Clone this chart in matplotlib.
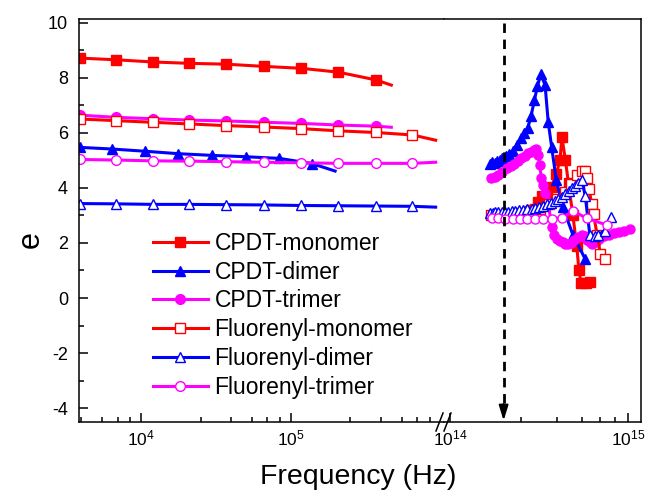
import matplotlib
matplotlib.use("Agg")
import matplotlib.pyplot as plt
from matplotlib.lines import Line2D
from matplotlib.ticker import FixedLocator, NullFormatter, LogFormatterSciNotation

plt.rcParams['font.family'] = ['Liberation Sans', 'DejaVu Sans']
plt.rcParams['mathtext.fontset'] = 'custom'
plt.rcParams['mathtext.rm'] = 'Liberation Sans'
plt.rcParams['mathtext.it'] = 'Liberation Sans:italic'
plt.rcParams['mathtext.default'] = 'regular'
plt.rcParams['axes.unicode_minus'] = False

RED, BLUE, MAG = '#ff0000', '#0000ff', '#ff00ff'

labels = ["CPDT-monomer", "CPDT-dimer", "CPDT-trimer",
          "Fluorenyl-monomer", "Fluorenyl-dimer", "Fluorenyl-trimer"]

# ---- low frequency range (Hz), markers on every listed point, tail is line only
f_lo = [3.9e3, 6.8e3, 1.2e4, 2.1e4, 3.7e4, 6.6e4, 1.18e5, 2.08e5, 3.7e5, 6.5e5]
f_lo_dimer = [3.9e3, 6.4e3, 1.06e4, 1.78e4, 2.96e4, 5.0e4, 8.4e4, 1.39e5]

cpdt_mono_lo = [8.71, 8.65, 8.57, 8.52, 8.49, 8.41, 8.34, 8.20, 7.92]
cpdt_dimer_lo = [5.47, 5.41, 5.33, 5.24, 5.18, 5.13, 5.07, 4.88]
cpdt_tri_lo = [6.64, 6.56, 6.51, 6.46, 6.43, 6.38, 6.34, 6.28, 6.24]
fl_mono_lo = [6.50, 6.44, 6.38, 6.32, 6.26, 6.21, 6.15, 6.07, 6.01, 5.92]
fl_dimer_lo = [3.43, 3.42, 3.40, 3.40, 3.39, 3.38, 3.36, 3.35, 3.34, 3.33]
fl_tri_lo = [5.03, 5.01, 4.98, 4.97, 4.95, 4.93, 4.91, 4.89, 4.89, 4.89]

# (frequency, value) where each low-range line stops
tails = [(4.7e5, 7.73), (1.98e5, 4.61), (4.7e5, 6.20),
         (9.3e5, 5.73), (9.3e5, 3.30), (9.3e5, 4.93)]

# ---- optical range, frequency in units of 1e14 Hz
cpdt_mono_hi_f = [2.85, 3.0, 3.12, 3.3, 3.5, 3.72, 3.95, 4.15, 4.25, 4.45, 4.63,
                  4.9, 5.15, 5.3, 5.45, 5.8, 6.1]
cpdt_mono_hi = [3.18, 3.25, 3.48, 3.7, 3.85, 4.04, 4.5, 5.02, 5.85, 5.0, 4.16,
                3.0, 1.89, 1.0, 0.55, 0.55, 0.6]

cpdt_dimer_hi_f = [1.68, 1.73, 1.78, 1.84, 1.90, 1.97, 2.05, 2.15, 2.25, 2.37, 2.51,
                   2.62, 2.73, 2.85, 2.98, 3.10, 3.24, 3.42, 3.56, 3.72, 3.95, 4.3,
                   4.9, 5.73]
cpdt_dimer_hi = [4.88, 4.95, 4.90, 4.98, 5.02, 5.08, 5.15, 5.24, 5.35, 5.55, 5.80,
                 5.98, 6.16, 6.60, 7.19, 7.70, 8.13, 7.73, 6.40, 5.50, 4.30, 3.30,
                 2.30, 1.43]

cpdt_tri_hi_f = [1.69, 1.78, 1.86, 1.97, 2.09, 2.2, 2.29, 2.4, 2.51, 2.63, 2.75,
                 2.85, 2.95, 3.05, 3.12, 3.19, 3.26, 3.34, 3.42, 3.56, 3.72, 3.85,
                 3.98, 4.15, 4.3, 4.45, 4.62, 4.8, 5.0, 5.25, 5.5, 5.7, 5.9, 6.1,
                 6.28, 6.6, 6.9, 7.3, 7.8, 8.3, 8.9, 9.5, 10.2]
cpdt_tri_hi = [4.35, 4.40, 4.45, 4.58, 4.71, 4.80, 4.88, 4.98, 5.08, 5.17, 5.25,
               5.31, 5.36, 5.42, 5.2, 4.84, 4.35, 4.10, 3.80, 3.48, 2.58, 2.3,
               2.16, 2.08, 2.02, 1.98, 1.95, 2.0, 2.1, 2.2, 2.3, 2.25, 2.12, 2.02,
               1.97, 2.05, 2.15, 2.25, 2.3, 2.35, 2.4, 2.45, 2.5]

fl_mono_hi_f = [1.70, 2.0, 2.4, 2.8, 3.2, 3.6, 4.0, 4.4, 4.8, 5.2, 5.5, 5.75, 5.9,
                6.05, 6.25, 6.4, 6.7, 7.0, 7.4]
fl_mono_hi = [3.00, 3.03, 3.08, 3.15, 3.25, 3.40, 3.60, 3.85, 4.15, 4.45, 4.60,
              4.62, 4.35, 3.95, 3.40, 3.05, 2.30, 1.60, 1.42]

fl_dimer_hi_f = [1.68, 1.74, 1.80, 1.87, 1.95, 2.03, 2.12, 2.22, 2.33, 2.45, 2.58,
                 2.72, 2.87, 3.02, 3.18, 3.35, 3.52, 3.70, 3.88, 4.06, 4.25, 4.45,
                 4.65, 4.85, 5.05, 5.25, 5.5, 5.75, 6.1, 6.5, 6.8, 7.4, 8.0]
fl_dimer_hi = [3.10, 3.10, 3.11, 3.12, 3.12, 3.13, 3.14, 3.15, 3.16, 3.18, 3.20,
               3.22, 3.25, 3.28, 3.31, 3.35, 3.40, 3.45, 3.52, 3.60, 3.68, 3.78,
               3.88, 3.98, 4.08, 4.18, 4.30, 3.70, 2.30, 2.25, 2.30, 2.45, 2.95]

fl_tri_hi_f = [1.71, 1.87, 2.04, 2.27, 2.47, 2.70, 3.01, 3.34, 3.72, 4.25, 4.93,
               5.86, 7.59]
fl_tri_hi = [2.92, 2.90, 2.88, 2.87, 2.86, 2.86, 2.86, 2.87, 2.88, 2.92, 3.15,
             2.90, 2.65]

band_edge = 2.0e14  # dashed marker line

styles = [(RED, 's', True), (BLUE, '^', True), (MAG, 'o', True),
          (RED, 's', False), (BLUE, '^', False), (MAG, 'o', False)]

lo_series = [(f_lo, cpdt_mono_lo), (f_lo_dimer, cpdt_dimer_lo), (f_lo, cpdt_tri_lo),
             (f_lo, fl_mono_lo), (f_lo, fl_dimer_lo), (f_lo, fl_tri_lo)]
hi_series = [(cpdt_mono_hi_f, cpdt_mono_hi), (cpdt_dimer_hi_f, cpdt_dimer_hi),
             (cpdt_tri_hi_f, cpdt_tri_hi), (fl_mono_hi_f, fl_mono_hi),
             (fl_dimer_hi_f, fl_dimer_hi), (fl_tri_hi_f, fl_tri_hi)]

fig = plt.figure(figsize=(6.45, 4.93), dpi=100)
W, H = 645.0, 493.0
axL = fig.add_axes([79 / W, 71 / H, 365 / W, 403 / H])
axR = fig.add_axes([444 / W, 71 / H, 196.5 / W, 403 / H], sharey=axL)

handles = []
for (f, v), tail, (c, m, filled), lab in zip(lo_series, tails, styles, labels):
    n = len(v)
    fx = list(f[:n]) + [tail[0]]
    vx = list(v) + [tail[1]]
    h, = axL.plot(fx, vx, color=c, lw=2.2, marker=m, ms=7,
                  mfc=c if filled else 'white', mec=c, mew=1.0,
                  markevery=slice(0, n), label=lab)
    handles.append(h)

for (f, v), (c, m, filled) in zip(hi_series, styles):
    axR.plot([x * 1e14 for x in f], v, color=c, lw=2.2, marker=m, ms=6.5,
             mfc=c if filled else 'white', mec=c, mew=1.0)

axR.plot([band_edge, band_edge], [10.0, -3.85], color='k', lw=2.0,
         ls=(0, (3.4, 2.4)))
axR.annotate('', xy=(band_edge, -4.45), xytext=(band_edge, -3.85),
             arrowprops=dict(arrowstyle='-|>,head_length=0.9,head_width=0.28',
                             color='k', lw=1.5, shrinkA=0, shrinkB=0))

for ax in (axL, axR):
    ax.set_xscale('log')
    for s in ax.spines.values():
        s.set_linewidth(1.1)
    ax.tick_params(which='both', direction='in', top=False, right=False,
                   width=1.1)
    ax.tick_params(which='major', length=6.5)
    ax.tick_params(which='minor', length=3.5)
    ax.tick_params(axis='x', pad=4.5, labelsize=12.5)
    ax.tick_params(axis='y', labelsize=13)
    ax.xaxis.set_minor_formatter(NullFormatter())

axL.set_xlim(3.855e3, 1.057e6)
axR.set_xlim(9.25e13, 1.175e15)
axL.set_ylim(-4.5, 10.13)

axL.xaxis.set_major_locator(FixedLocator([1e4, 1e5]))
axL.xaxis.set_minor_locator(FixedLocator(
    [4e3, 5.5e3, 7e3, 8.5e3, 2.5e4, 4e4, 5.5e4, 7e4, 8.5e4,
     2.5e5, 4e5, 5.5e5, 7e5, 8.5e5]))
axR.xaxis.set_major_locator(FixedLocator([1e14, 1e15]))
axR.xaxis.set_minor_locator(FixedLocator([2.5e14, 4e14, 5.5e14, 7e14, 8.5e14]))
for ax in (axL, axR):
    ax.xaxis.set_major_formatter(LogFormatterSciNotation())

axL.yaxis.set_major_locator(FixedLocator(range(-4, 11, 2)))
axL.yaxis.set_minor_locator(FixedLocator(range(-5, 11, 2)))
axL.tick_params(axis='y', pad=8)
axL.spines['right'].set_visible(False)
axR.spines['left'].set_visible(False)
axR.tick_params(axis='y', which='both', left=False, labelleft=False)

# axis break marks
for x0 in (436, 444):
    fig.add_artist(Line2D([x0 / W, (x0 + 7) / W], [1 - 431 / H, 1 - 413 / H],
                          color='k', lw=1.1))

axL.legend(handles=handles, loc='upper left',
           bbox_to_anchor=(152.7 / W, 1 - 232 / H), bbox_transform=fig.transFigure,
           frameon=False, fontsize=16.5, handlelength=2.4, handletextpad=0.3,
           labelspacing=0.25, borderpad=0, borderaxespad=0)

fig.text(358 / W, 1 - 484 / H, 'Frequency (Hz)', ha='center', va='baseline',
         fontsize=20.5)
fig.text(31 / W, 1 - 240 / H, 'e', ha='center', va='center', rotation=90,
         fontsize=22)

fig.savefig('out.png', dpi=100)
